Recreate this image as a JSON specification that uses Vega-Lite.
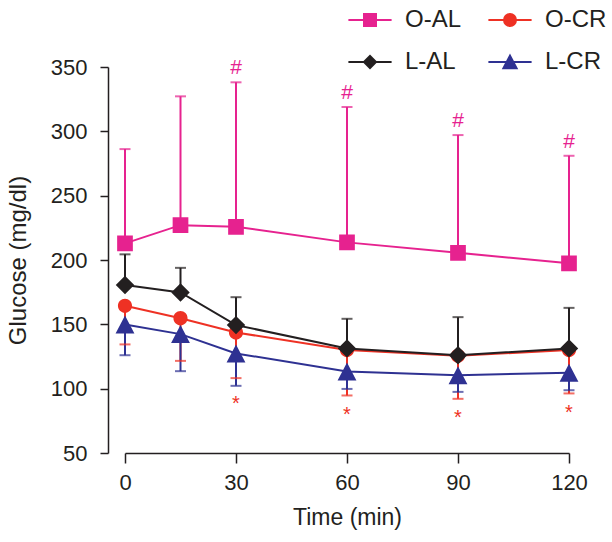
{
  "$schema": "https://vega.github.io/schema/vega-lite/v6.json",
  "width": 444,
  "height": 386,
  "autosize": {"type": "none"},
  "padding": {"left": 125, "top": 67, "right": 43, "bottom": 89},
  "config": {
    "font": "Liberation Sans",
    "view": {"stroke": null},
    "axis": {
      "grid": false,
      "domainColor": "#231F20",
      "tickColor": "#231F20",
      "labelColor": "#231F20",
      "titleColor": "#231F20",
      "labelFont": "Liberation Sans",
      "titleFont": "Liberation Sans",
      "labelFontSize": 22,
      "titleFontSize": 23,
      "titleFontWeight": "normal",
      "domainWidth": 1.5,
      "tickWidth": 1.5
    }
  },
  "datasets": {
    "curve": [
      {"group": "O-AL", "time": 0, "glucose": 212.9},
      {"group": "O-AL", "time": 15, "glucose": 227.1},
      {"group": "O-AL", "time": 30, "glucose": 225.8},
      {"group": "O-AL", "time": 60, "glucose": 213.7},
      {"group": "O-AL", "time": 90, "glucose": 205.6},
      {"group": "O-AL", "time": 120, "glucose": 197.4},
      {"group": "O-CR", "time": 0, "glucose": 164.4},
      {"group": "O-CR", "time": 15, "glucose": 154.8},
      {"group": "O-CR", "time": 30, "glucose": 143.7},
      {"group": "O-CR", "time": 60, "glucose": 130.0},
      {"group": "O-CR", "time": 90, "glucose": 125.6},
      {"group": "O-CR", "time": 120, "glucose": 130.0},
      {"group": "L-AL", "time": 0, "glucose": 180.5},
      {"group": "L-AL", "time": 15, "glucose": 174.8},
      {"group": "L-AL", "time": 30, "glucose": 149.4},
      {"group": "L-AL", "time": 60, "glucose": 131.3},
      {"group": "L-AL", "time": 90, "glucose": 126.0},
      {"group": "L-AL", "time": 120, "glucose": 131.3},
      {"group": "L-CR", "time": 0, "glucose": 149.9},
      {"group": "L-CR", "time": 15, "glucose": 142.4},
      {"group": "L-CR", "time": 30, "glucose": 127.4},
      {"group": "L-CR", "time": 60, "glucose": 113.4},
      {"group": "L-CR", "time": 90, "glucose": 110.5},
      {"group": "L-CR", "time": 120, "glucose": 112.3}
    ],
    "errs": [
      {"group": "O-AL", "time": 0, "glucose": 212.9, "bound": 286.2},
      {"group": "O-AL", "time": 15, "glucose": 227.1, "bound": 327.2},
      {"group": "O-AL", "time": 30, "glucose": 225.8, "bound": 338.1},
      {"group": "O-AL", "time": 60, "glucose": 213.7, "bound": 318.9},
      {"group": "O-AL", "time": 90, "glucose": 205.6, "bound": 297.1},
      {"group": "O-AL", "time": 120, "glucose": 197.4, "bound": 281.0},
      {"group": "O-CR", "time": 0, "glucose": 164.4, "bound": 134.4},
      {"group": "O-CR", "time": 15, "glucose": 154.8, "bound": 121.6},
      {"group": "O-CR", "time": 30, "glucose": 143.7, "bound": 108.2},
      {"group": "O-CR", "time": 60, "glucose": 130.0, "bound": 94.7},
      {"group": "O-CR", "time": 90, "glucose": 125.6, "bound": 92.1},
      {"group": "O-CR", "time": 120, "glucose": 130.0, "bound": 96.3},
      {"group": "L-AL", "time": 0, "glucose": 180.5, "bound": 204.4},
      {"group": "L-AL", "time": 15, "glucose": 174.8, "bound": 193.9},
      {"group": "L-AL", "time": 30, "glucose": 149.4, "bound": 171.1},
      {"group": "L-AL", "time": 60, "glucose": 131.3, "bound": 154.3},
      {"group": "L-AL", "time": 90, "glucose": 126.0, "bound": 155.6},
      {"group": "L-AL", "time": 120, "glucose": 131.3, "bound": 162.8},
      {"group": "L-CR", "time": 0, "glucose": 149.9, "bound": 126.0},
      {"group": "L-CR", "time": 15, "glucose": 142.4, "bound": 113.6},
      {"group": "L-CR", "time": 30, "glucose": 127.4, "bound": 102.2},
      {"group": "L-CR", "time": 60, "glucose": 113.4, "bound": 99.8},
      {"group": "L-CR", "time": 90, "glucose": 110.5, "bound": 97.5},
      {"group": "L-CR", "time": 120, "glucose": 112.3, "bound": 98.8}
    ],
    "hash": [
      {"time": 30, "pos": 349.6, "sym": "#"},
      {"time": 60, "pos": 329.5, "sym": "#"},
      {"time": 90, "pos": 308.0, "sym": "#"},
      {"time": 120, "pos": 291.9, "sym": "#"}
    ],
    "star": [
      {"time": 30, "pos": 91.6, "sym": "*"},
      {"time": 60, "pos": 83.8, "sym": "*"},
      {"time": 90, "pos": 81.2, "sym": "*"},
      {"time": 120, "pos": 84.6, "sym": "*"}
    ]
  },
  "encoding": {
    "x": {
      "field": "time",
      "type": "quantitative",
      "scale": {"domain": [0, 120], "nice": false, "zero": false},
      "axis": {
        "values": [0, 30, 60, 90, 120],
        "title": "Time (min)",
        "tickSize": 10,
        "labelPadding": 9,
        "titlePadding": 13,
        "labelFlush": false
      }
    }
  },
  "layer": [
    {
      "data": {"name": "errs"},
      "mark": {"type": "rule", "strokeWidth": 2},
      "encoding": {
        "y": {
          "field": "glucose",
          "type": "quantitative",
          "scale": {"domain": [50, 350], "nice": false, "zero": false},
          "axis": {
            "values": [50, 100, 150, 200, 250, 300, 350],
            "title": "Glucose (mg/dl)",
            "titleFontSize": 24,
            "offset": 17,
            "tickSize": 8,
            "labelPadding": 13,
            "titlePadding": 20
          }
        },
        "y2": {"field": "bound"},
        "color": {
          "field": "group",
          "type": "nominal",
          "scale": {"domain": ["L-AL", "L-CR", "O-AL", "O-CR"], "range": ["#231F20", "#2E3192", "#E6228F", "#EE3124"]},
          "legend": null
        }
      }
    },
    {
      "data": {"name": "errs"},
      "mark": {"type": "tick", "orient": "horizontal", "size": 11, "thickness": 2},
      "encoding": {
        "y": {"field": "bound", "type": "quantitative"},
        "color": {"field": "group", "type": "nominal", "legend": null}
      }
    },
    {
      "data": {"name": "curve"},
      "mark": {"type": "line", "strokeWidth": 2},
      "encoding": {
        "y": {"field": "glucose", "type": "quantitative"},
        "color": {"field": "group", "type": "nominal", "legend": null}
      }
    },
    {
      "data": {"name": "errs"},
      "mark": {"type": "point", "filled": true, "opacity": 1, "strokeWidth": 0},
      "encoding": {
        "y": {"field": "glucose", "type": "quantitative"},
        "fill": {
          "field": "group",
          "type": "nominal",
          "scale": {"domain": ["O-AL", "O-CR", "L-AL", "L-CR"], "range": ["#E6228F", "#EE3124", "#231F20", "#2E3192"]},
          "legend": {
            "orient": "none",
            "direction": "horizontal",
            "legendX": 233,
            "legendY": -59,
            "columns": 2,
            "title": null,
            "symbolSize": 144,
            "symbolStrokeWidth": 2,
            "labelFontSize": 24,
            "labelFont": "Liberation Sans",
            "labelColor": "#231F20",
            "labelOffset": 23,
            "columnPadding": 22,
            "rowPadding": 18
          }
        },
        "stroke": {
          "field": "group",
          "type": "nominal",
          "scale": {"domain": ["O-AL", "O-CR", "L-AL", "L-CR"], "range": ["#E6228F", "#EE3124", "#231F20", "#2E3192"]},
          "legend": {
            "orient": "none",
            "direction": "horizontal",
            "legendX": 233,
            "legendY": -59,
            "columns": 2,
            "title": null,
            "symbolSize": 144,
            "symbolStrokeWidth": 2,
            "labelFontSize": 24,
            "labelFont": "Liberation Sans",
            "labelColor": "#231F20",
            "labelOffset": 23,
            "columnPadding": 22,
            "rowPadding": 18
          }
        },
        "shape": {
          "field": "group",
          "type": "nominal",
          "scale": {
            "domain": ["O-AL", "O-CR", "L-AL", "L-CR"],
            "range": [
              "M-3.6,0H3.6M-1,-1H1V1H-1Z",
              "M-3.6,0H3.6M-1,0A1,1,0,1,0,1,0A1,1,0,1,0,-1,0Z",
              "M-3.6,0H3.6M-1,0L0,-1L1,0L0,1Z",
              "M-3.6,0H3.6M0,-1.05L1.1,1.05L-1.1,1.05Z"
            ]
          },
          "legend": {
            "orient": "none",
            "direction": "horizontal",
            "legendX": 233,
            "legendY": -59,
            "columns": 2,
            "title": null,
            "symbolSize": 144,
            "symbolStrokeWidth": 2,
            "labelFontSize": 24,
            "labelFont": "Liberation Sans",
            "labelColor": "#231F20",
            "labelOffset": 23,
            "columnPadding": 22,
            "rowPadding": 18
          }
        },
        "size": {
          "field": "group",
          "type": "nominal",
          "scale": {"domain": ["L-AL", "L-CR", "O-AL", "O-CR"], "range": [340, 200, 225, 210]},
          "legend": null
        }
      }
    },
    {
      "data": {"name": "hash"},
      "mark": {"type": "text", "color": "#E6228F", "fontSize": 21, "baseline": "middle"},
      "encoding": {
        "y": {"field": "pos", "type": "quantitative"},
        "text": {"field": "sym"}
      }
    },
    {
      "data": {"name": "star"},
      "mark": {"type": "text", "color": "#EE3124", "fontSize": 20, "baseline": "middle", "dy": 5},
      "encoding": {
        "y": {"field": "pos", "type": "quantitative"},
        "text": {"field": "sym"}
      }
    }
  ]
}
